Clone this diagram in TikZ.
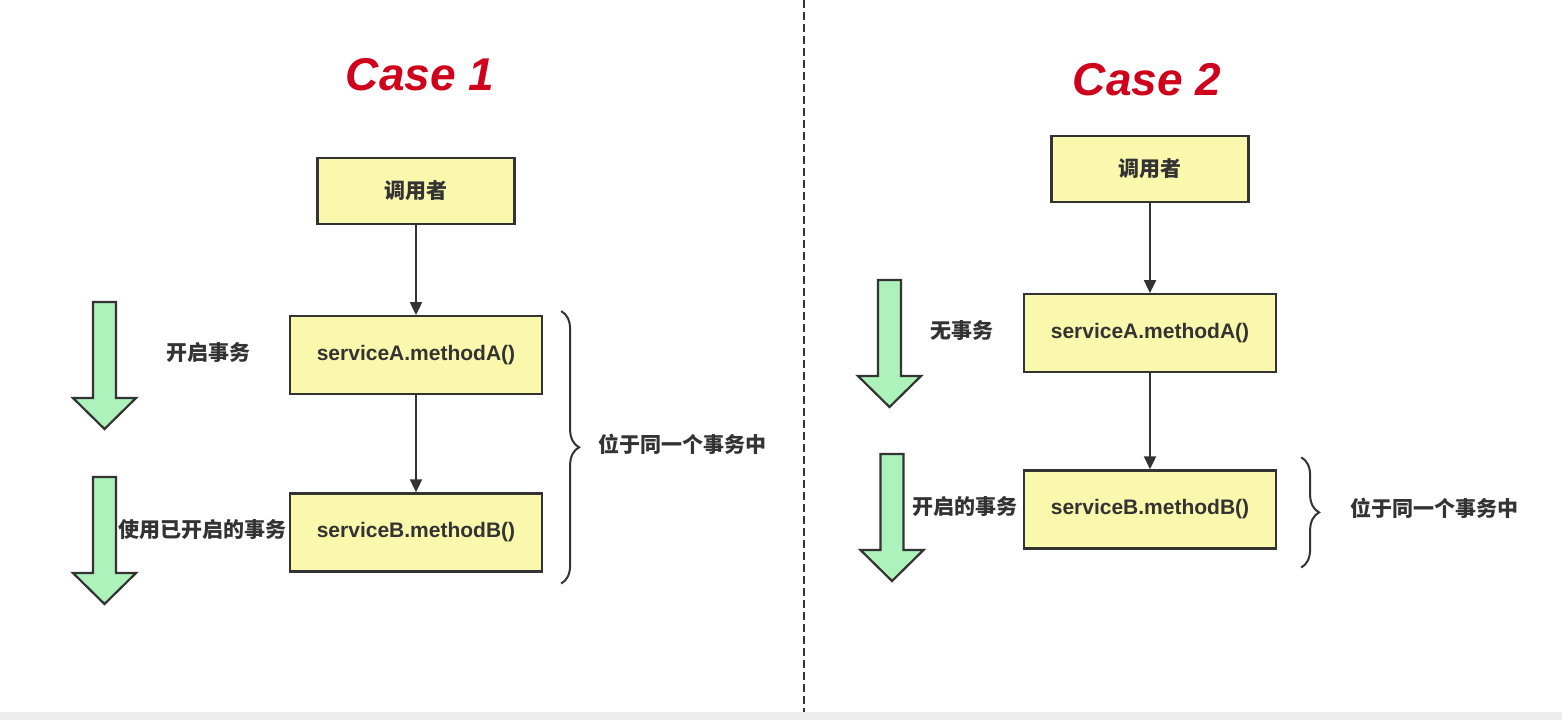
\documentclass[tikz,border=0pt]{standalone}
\usepackage{fontspec}
\setmainfont{Liberation Sans}
\newfontfamily\cjk{Noto Sans CJK SC}
\usetikzlibrary{positioning,arrows.meta,decorations.pathreplacing}
\definecolor{caseRed}{HTML}{D0021B}
\definecolor{boxYellow}{HTML}{FAF8AC}
\definecolor{flowGreen}{HTML}{ADF2BA}
\definecolor{inkGray}{HTML}{333333}
\definecolor{stripGray}{HTML}{EDEDED}

\begin{document}
\begin{tikzpicture}[
  x=0.5pt, y=-0.5pt,
  font=\fontsize{10.5}{13}\selectfont\bfseries,
  text=inkGray,
  title/.style = {font=\fontsize{23}{27}\selectfont\bfseries\itshape, text=caseRed},
  callbox/.style = {draw=inkGray, line width=1.1pt, fill=boxYellow,
                    minimum width=98.5pt, minimum height=33pt, inner sep=0pt},
  svcbox/.style = {draw=inkGray, line width=1.1pt, fill=boxYellow,
                   minimum width=126pt, minimum height=39pt, inner sep=0pt},
  lbl/.style = {inner sep=0pt, font=\fontsize{10.5}{13}\selectfont\cjk\bfseries},
  flow/.style = {-{Triangle[length=6.5pt,width=6pt]}, line width=1pt, draw=inkGray},
  grp/.style = {decorate, decoration={brace, amplitude=9pt}, line width=1pt, draw=inkGray},
  txdown/.pic = {
    \draw[line width=1.1pt, draw=inkGray, fill=flowGreen]
      (-11.5,0) -- (11.5,0) -- (11.5,96) -- (31.5,96) -- (0,127)
      -- (-31.5,96) -- (-11.5,96) -- cycle;
  },
]
\useasboundingbox[fill=white] (0,0) rectangle (1562,720);
\fill[stripGray] (0,712) rectangle (1562,720);

% ---------- divider ----------
\draw[line width=1pt, draw=inkGray, dash pattern=on 4pt off 2pt] (804,0) -- (804,712);

% ---------- Case 1 ----------
\node[title] (t1) at (420,75) {Case 1};
\node[callbox] (c1) at (416,191) {\cjk 调用者};
\node[svcbox, below=45pt of c1] (a1) {serviceA.methodA()};
\node[svcbox, below=48.5pt of a1] (b1) {serviceB.methodB()};

\draw[flow] (c1) -- (a1);
\draw[flow] (a1) -- (b1);

\coordinate (g1top) at ([xshift=9pt,yshift=2pt]a1.north east);
\coordinate (g1bot) at ([xshift=9pt,yshift=-5.5pt]b1.south east);
\draw[grp] (g1top) -- (g1bot);
\node[lbl, anchor=west] (s1) at (598,444) {位于同一个事务中};

\pic at (104.5,302) {txdown};
\pic at (104.5,477) {txdown};
\node[lbl] (l1a) at (208.5,353) {开启事务};
\node[lbl] (l1b) at (202.5,530) {使用已开启的事务};

% ---------- Case 2 ----------
\node[title] (t2) at (1147,80) {Case 2};
\node[callbox] (c2) at (1150,169) {\cjk 调用者};
\node[svcbox, below=45pt of c2] (a2) {serviceA.methodA()};
\node[svcbox, below=48pt of a2] (b2) {serviceB.methodB()};

\draw[flow] (c2) -- (a2);
\draw[flow] (a2) -- (b2);

\coordinate (g2top) at ([xshift=12pt,yshift=6pt]b2.north east);
\coordinate (g2bot) at ([xshift=12pt,yshift=-9pt]b2.south east);
\draw[grp] (g2top) -- (g2bot);
\node[lbl, anchor=west] (s2) at (1350,508) {位于同一个事务中};

\pic at (889.5,280) {txdown};
\pic at (892,454) {txdown};
\node[lbl] (l2a) at (961.5,331) {无事务};
\node[lbl] (l2b) at (964.5,507) {开启的事务};

\end{tikzpicture}
\end{document}
